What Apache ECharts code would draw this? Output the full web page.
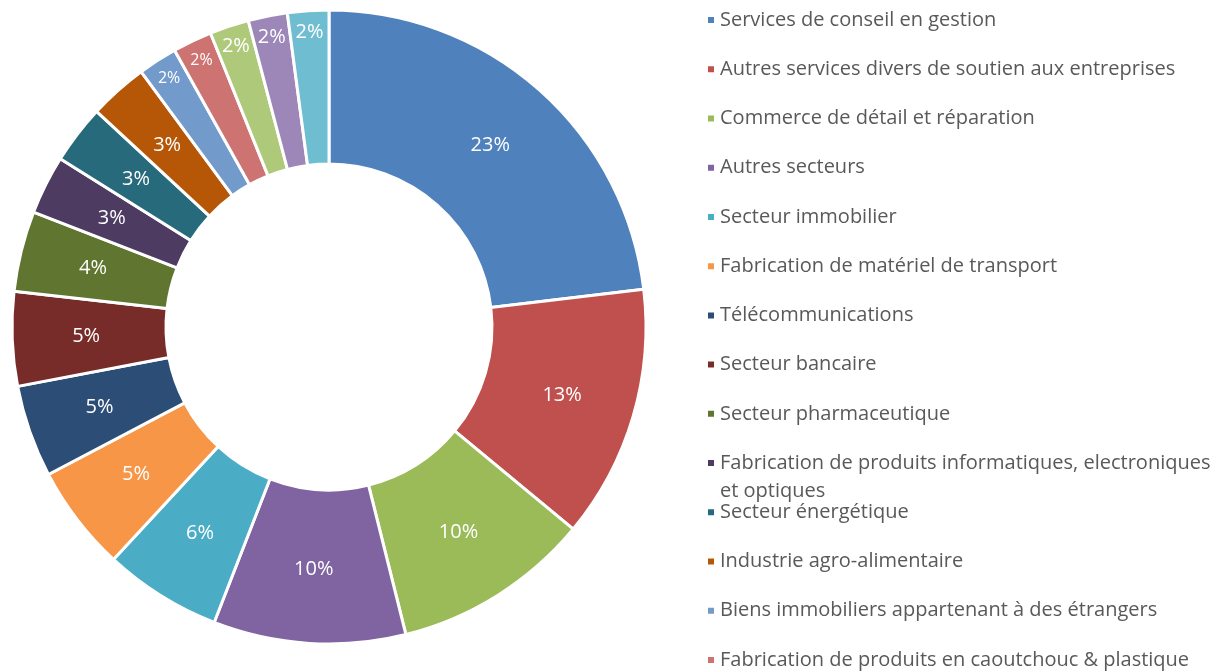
<!DOCTYPE html>
<html>
<head>
<meta charset="utf-8">
<script src="https://cdn.jsdelivr.net/npm/echarts@6/dist/echarts.min.js"></script>
<style>
  html, body { margin: 0; padding: 0; background: #fff; }
  #chart { width: 1219px; height: 672px; }
</style>
</head>
<body>
<div id="chart"></div>
<script>
// secteurs (les 3 derniers ne sont pas visibles dans la légende)
var categories = [
  'Services de conseil en gestion',
  'Autres services divers de soutien aux entreprises',
  'Commerce de détail et réparation',
  'Autres secteurs',
  'Secteur immobilier',
  'Fabrication de matériel de transport',
  'Télécommunications',
  'Secteur bancaire',
  'Secteur pharmaceutique',
  'Fabrication de produits informatiques, electroniques\net optiques',
  'Secteur énergétique',
  'Industrie agro-alimentaire',
  'Biens immobiliers appartenant à des étrangers',
  'Fabrication de produits en caoutchouc & plastique',
  'Secteur 15',
  'Secteur 16',
  'Secteur 17'
];
var values = [23.1, 12.9, 10.1, 9.8, 6.0, 5.4, 4.7, 4.8, 4.1, 3.0, 3.0, 3.0, 2.0, 2.0, 2.0, 2.0, 2.1];
var colors = ['#4F81BD', '#C0504D', '#9BBB59', '#8064A2', '#4BACC6', '#F79646',
  '#2C4D75', '#772C2A', '#5F7530', '#4D3B62', '#276A7C', '#B65708',
  '#729ACA', '#CD7371', '#AFC97A', '#9D87B8', '#6FBDD1'];
var legendCount = 14;
var outerFrom = 12; // les petites parts ont leur étiquette vers l'extérieur

var chart = echarts.init(document.getElementById('chart'));
var font = '"Open Sans", sans-serif';

// une légende par ligne pour garder un pas constant
var legends = [];
for (var i = 0; i < legendCount; i++) {
  var wrapped = categories[i].indexOf('\n') >= 0;
  var cy = 20 + i * 49.23;
  legends.push({
    data: [categories[i]],
    left: 706,
    top: wrapped ? cy - 42 : cy - 14,
    orient: 'vertical',
    padding: 0,
    itemWidth: 8,
    itemHeight: 8,
    icon: 'rect',
    selectedMode: false,
    // ligne vide en tête pour aligner la 1re ligne sur le carré
    formatter: wrapped ? function (n) { return ' \n' + n; } : '{name}',
    textStyle: {
      fontFamily: font,
      fontSize: 20,
      color: '#595959',
      lineHeight: 28
    }
  });
}

var pct = function (p) { return Math.round(p.percent) + '%'; };

var mainData = categories.map(function (c, i) {
  var d = { name: c, value: values[i] };
  if (i >= outerFrom) d.label = { show: false };
  return d;
});
var outerData = categories.map(function (c, i) {
  var d = { name: c, value: values[i] };
  if (i < outerFrom) d.label = { show: false };
  else if (i < 14) d.label = { fontSize: 16 };
  return d;
});

var option = {
  animation: false,
  color: colors,
  legend: legends,
  series: [{
    type: 'pie',
    center: [329, 327],
    radius: [163, 317],
    startAngle: 90,
    clockwise: true,
    avoidLabelOverlap: false,
    itemStyle: { borderColor: '#fff', borderWidth: 3 },
    label: {
      show: true,
      position: 'inside',
      color: '#fff',
      fontFamily: font,
      fontSize: 20,
      formatter: pct
    },
    labelLine: { show: false },
    emphasis: { scale: false },
    data: mainData
  }, {
    // étiquettes seules, placées près du bord extérieur
    type: 'pie',
    center: [329, 327],
    radius: [268, 317],
    startAngle: 90,
    clockwise: true,
    silent: true,
    avoidLabelOverlap: false,
    itemStyle: { color: 'rgba(0,0,0,0)', borderWidth: 0 },
    label: {
      show: true,
      position: 'inside',
      color: '#fff',
      fontFamily: font,
      fontSize: 20,
      formatter: pct
    },
    labelLine: { show: false },
    data: outerData
  }]
};
chart.setOption(option);
</script>
</body>
</html>
